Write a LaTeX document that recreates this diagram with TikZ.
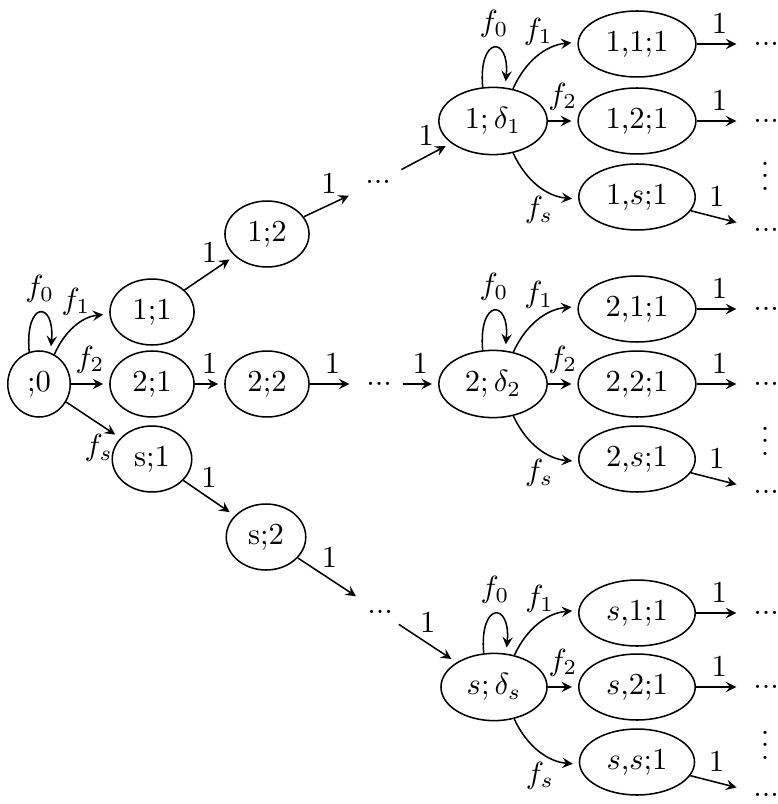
\documentclass[tikz,border=0pt]{standalone}
\usetikzlibrary{shapes.geometric, arrows}
\tikzstyle{state} = [ellipse, draw=black, line width=0.5pt]
\tikzstyle{more} = [inner sep=3.33pt]
\tikzstyle{arrow} = [line width=0.5pt, ->, >=stealth, shorten >=2pt]

\begin{document}
\begin{tikzpicture}[x=0.327pt, y=-0.327pt]
\useasboundingbox (0, 0) rectangle (777, 804);
\node (node0) [state] at (39, 384) {;0};
\draw [arrow] (node0.107) .. controls +(95:17pt) and +(85:17pt) .. node[anchor = south]{$f_0$} (node0.70);
\node (node1) [state] at (152, 312) {1;1};
\draw [arrow] (node0) to [bend left=30] node[anchor = south]{$f_1$} (node1);
\node (node2) [state] at (152, 384) {2;1};
\draw [arrow] (node0) -- node[anchor = south]{$f_2$} (node2);
\node (node3) [state] at (152, 459) {s;1};
\draw [arrow] (node0) -- node[anchor = north, pos=0.6]{$f_s$} (node3);
\node (node4) [state] at (267, 234) {1;2};
\draw [arrow] (node1) -- node[anchor = south]{1} (node4);
\node (node5) [state] at (267, 384) {2;2};
\draw [arrow] (node2) -- node[anchor = south]{1} (node5);
\node (node6) [state] at (266, 537) {s;2};
\draw [arrow] (node3) -- node[anchor = south]{1} (node6);
\node (node7) [more] at (378, 182) {...};
\draw [arrow] (node4) -- node[anchor = south]{1} (node7);
\node (node8) [more] at (379, 384) {...};
\draw [arrow] (node5) -- node[anchor = south]{1} (node8);
\node (node9) [more] at (380, 612) {...};
\draw [arrow] (node6) -- node[anchor = south]{1} (node9);
% first branch
\node (node10) [state] at (493, 121) {$1;\delta_1$};
\draw [arrow] (node7) -- node[anchor = south]{1} (node10);
\draw [arrow] (node10.107) .. controls +(95:17pt) and +(85:17pt) .. node[anchor = south]{$f_0$} (node10.70);
\node (node13) [state] at (637, 44) {1,1;1};
\draw [arrow] (node10) to [bend left=30] node[anchor = south]{$f_1$} (node13);
\node (node14) [state] at (637, 121) {1,2;1};
\draw [arrow] (node10) -- node[anchor = south]{$f_2$} (node14);
\node (node15) [state] at (637, 197) {1,$s$;1};
\draw [arrow] (node10) to [bend right=30] node[anchor = north]{$f_s$} (node15);
\node (node16) [more] at (766, 44) {...};
\draw [arrow] (node13) -- node[anchor = south]{1} (node16);
\node (node17) [more] at (766, 121) {...};
\draw [arrow] (node14) -- node[anchor = south]{1} (node17);
\node (node18) at (765, 167) {$\vdots$};
\node (node19) [more] at (766, 230) {...};
\draw [arrow] (node15) -- node[anchor = south]{1} (node19);
% second branch
\node (node11) [state] at (493, 384) {$2;\delta_2$};
\draw [arrow] (node8) -- node[anchor = south]{1} (node11);
\draw [arrow] (node11.107) .. controls +(95:17pt) and +(85:17pt) .. node[anchor = south]{$f_0$} (node11.70);
\node (node20) [state] at (637, 309) {2,1;1};
\draw [arrow] (node11) to [bend left=30] node[anchor = south]{$f_1$} (node20);
\node (node21) [state] at (637, 384) {2,2;1};
\draw [arrow] (node11) -- node[anchor = south]{$f_2$} (node21);
\node (node22) [state] at (637, 459) {2,$s$;1};
\draw [arrow] (node11) to [bend right=30] node[anchor = north]{$f_s$} (node22);
\node (node23) [more] at (766, 309) {...};
\draw [arrow] (node20) -- node[anchor = south]{1} (node23);
\node (node24) [more] at (766, 384) {...};
\draw [arrow] (node21) -- node[anchor = south]{1} (node24);
\node (node25) at (765, 432) {$\vdots$};
\node (node26) [more] at (766, 492) {...};
\draw [arrow] (node22) -- node[anchor = south]{1} (node26);
% last branch
\node (node12) [state] at (494, 687) {$s;\delta_s$};
\draw [arrow] (node9) -- node[anchor = south]{1} (node12);
\draw [arrow] (node12.107) .. controls +(95:17pt) and +(85:17pt) .. node[anchor = south]{$f_0$} (node12.70);
\node (node27) [state] at (637, 613) {$s$,1;1};
\draw [arrow] (node12) to [bend left=30] node[anchor = south]{$f_1$} (node27);
\node (node28) [state] at (637, 687) {$s$,2;1};
\draw [arrow] (node12) -- node[anchor = south]{$f_2$} (node28);
\node (node29) [state] at (637, 762) {$s$,$s$;1};
\draw [arrow] (node12) to [bend right=30] node[anchor = north]{$f_s$} (node29);
\node (node30) [more] at (766, 613) {...};
\draw [arrow] (node27) -- node[anchor = south]{1} (node30);
\node (node31) [more] at (766, 687) {...};
\draw [arrow] (node28) -- node[anchor = south]{1} (node31);
\node (node32) at (765, 736) {$\vdots$};
\node (node33) [more] at (766, 795) {...};
\draw [arrow] (node29) -- node[anchor = south]{1} (node33);
\end{tikzpicture}
\end{document}
